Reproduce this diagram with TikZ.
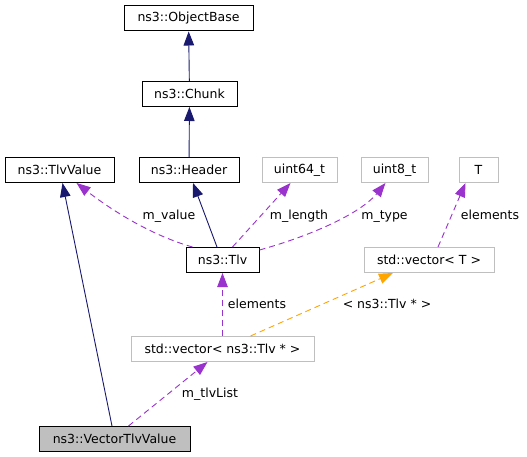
\documentclass[tikz,border=0pt]{standalone}
\usepackage{fontspec}
\setmainfont{DejaVu Sans}
\usetikzlibrary{arrows.meta}
\definecolor{edgeblue}{HTML}{191970}
\definecolor{edgeviolet}{HTML}{9A32CD}
\definecolor{edgeorange}{HTML}{FFA500}
\definecolor{boxgrey}{HTML}{BFBFBF}
\tikzset{
  cls/.style={draw=black, line width=1pt, fill=white, minimum height=25pt, inner sep=0pt},
  ext/.style={cls, draw=boxgrey},
  cur/.style={cls, fill=boxgrey},
  inherit/.style={draw=edgeblue, line width=0.9pt, -{Triangle[length=14pt,width=10.5pt]}},
  member/.style={draw=edgeviolet, line width=0.9pt, dash pattern=on 6pt off 4pt, -{Triangle[length=14pt,width=10.5pt]}},
  tmpl/.style={draw=edgeorange, line width=0.9pt, dash pattern=on 6pt off 4pt, -{Triangle[length=14pt,width=10.5pt]}},
  lbl/.style={anchor=base, inner sep=0pt}
}
\begin{document}
\begin{tikzpicture}[x=1pt, y=-1pt, every node/.style={font=\fontsize{12.5}{15}\selectfont}]
   \useasboundingbox[fill=white] (0,0) rectangle (527,457);
   % classes
   \node[cls, minimum width=129pt] (objbase) at (188.5,18.5) {ns3::ObjectBase};
   \node[cls, minimum width=95pt]  (chunk)   at (189.5,94)   {ns3::Chunk};
   \node[cls, minimum width=100pt] (header)  at (189,170)    {ns3::Header};
   \node[cls, minimum width=109pt] (tlvval)  at (59.5,170)   {ns3::TlvValue};
   \node[ext, minimum width=75pt]  (u64)     at (299.5,170)  {uint64\_t};
   \node[ext, minimum width=67pt]  (u8)      at (394.5,170)  {uint8\_t};
   \node[ext, minimum width=39pt]  (tpar)    at (478.5,170)  {T};
   \node[cls, minimum width=73pt]  (tlv)     at (222.5,260)  {ns3::Tlv};
   \node[ext, minimum width=130pt] (vect)    at (429,260)    {std::vector< T >};
   \node[ext, minimum width=183pt] (vectlv)  at (222.5,349)  {std::vector< ns3::Tlv * >};
   \node[cur, minimum width=151pt] (vtv)     at (114.5,439)  {ns3::VectorTlvValue};
   % inheritance
   \draw[inherit] (chunk) -- (objbase);
   \draw[inherit] (header) -- (chunk);
   \draw[inherit] ([xshift=-5.5pt]tlv.north) -- ([xshift=4pt]header.south);
   \draw[inherit] ([xshift=-2.5pt]vtv.north) -- ([xshift=3pt]tlvval.south);
   % members
   \draw[member] ([xshift=-30pt]tlv.north) .. controls (150,235) and (110,209) .. ([xshift=17pt]tlvval.south);
   \draw[member] ([xshift=10pt]tlv.north) -- ([xshift=-9pt]u64.south);
   \draw[member] ([yshift=-3pt]tlv.north east) .. controls (310,236) and (360,214) .. ([xshift=-9pt]u8.south);
   \draw[member] ([xshift=9pt]vect.north) -- ([xshift=-13pt]tpar.south);
   \draw[member] (vectlv) -- (tlv);
   \draw[member] ([xshift=14pt]vtv.north) -- ([xshift=-15pt]vectlv.south);
   \draw[tmpl] ([xshift=28pt]vectlv.north) -- ([xshift=-36pt]vect.south);
   % edge labels
   \node[lbl] (lvalue)  at (169,219)   {m\_value};
   \node[lbl] (llength) at (299,219)   {m\_length};
   \node[lbl] (ltype)   at (384.5,219) {m\_type};
   \node[lbl] (lelemt)  at (490,219)   {elements};
   \node[lbl] (lelem)   at (257,308)   {elements};
   \node[lbl] (larg)    at (387,308)   {< ns3::Tlv * >};
   \node[lbl] (llist)   at (210,397)   {m\_tlvList};
\end{tikzpicture}
\end{document}
